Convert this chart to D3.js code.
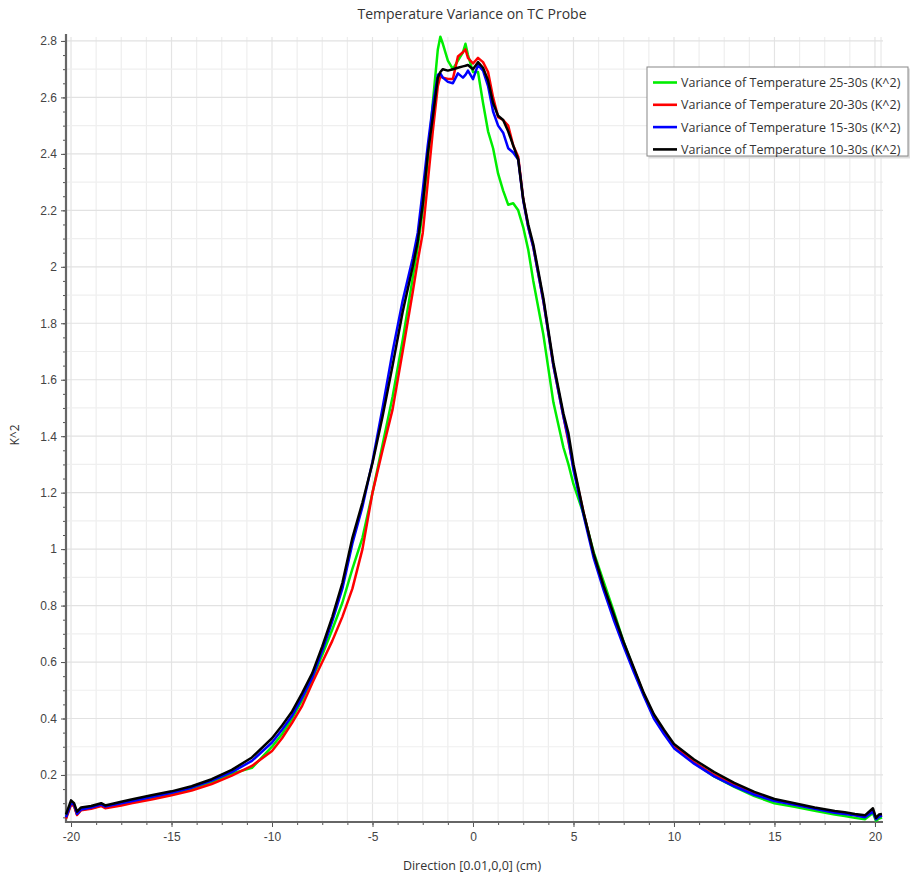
<!DOCTYPE html>
<html>
<head>
<meta charset="utf-8">
<script src="https://cdn.jsdelivr.net/npm/d3@7"></script>
<style>
  body { margin: 0; background: #fff; }
  svg { font-family: "Open Sans", "Noto Sans", sans-serif; }
  .tick text { fill: #444; font-size: 12px; }
</style>
</head>
<body>
<div id="chart"></div>
<script>
// --- Data ---
const xPos = [-20.25, -20.0, -19.85, -19.7, -19.5, -19, -18.5, -18.3, -17.5, -17, -16, -15, -14, -13, -12, -11,
  -10, -9.5, -9, -8.5, -8, -7.5, -7, -6.5, -6, -5.5, -5, -4.5, -4, -3.5, -3, -2.75, -2.5, -2.25, -2, -1.75,
  -1.625, -1.5, -1.25, -1, -0.75, -0.5, -0.375, -0.25, 0, 0.25, 0.5, 0.75, 1, 1.25, 1.5, 1.75, 2, 2.25, 2.5,
  2.75, 3, 3.5, 4, 4.5, 4.75, 5, 5.5, 6, 6.5, 7, 7.5, 8, 8.5, 9, 9.5, 10, 11, 12, 13, 14, 15, 16, 17, 18,
  18.5, 19, 19.5, 19.9, 20.05, 20.2, 20.35];

const var25_30 = [0.048, 0.098, 0.092, 0.06, 0.077, 0.083, 0.092, 0.085, 0.096, 0.104, 0.118, 0.133, 0.15, 0.176, 0.205, 0.225,
  0.3, 0.345, 0.4, 0.465, 0.54, 0.625, 0.715, 0.81, 0.93, 1.04, 1.2, 1.37, 1.54, 1.74, 1.96, 2.07, 2.2, 2.38, 2.58, 2.77,
  2.815, 2.79, 2.73, 2.7, 2.73, 2.76, 2.79, 2.75, 2.69, 2.69, 2.58, 2.48, 2.42, 2.33, 2.27, 2.22, 2.225, 2.2, 2.14,
  2.06, 1.95, 1.76, 1.52, 1.36, 1.3, 1.23, 1.125, 0.99, 0.885, 0.78, 0.67, 0.575, 0.485, 0.405, 0.35, 0.3, 0.243, 0.195, 0.158, 0.125, 0.1, 0.087, 0.073, 0.06,
  0.055, 0.048, 0.043, 0.065, 0.038, 0.045, 0.05];

const var20_30 = [0.045, 0.095, 0.09, 0.058, 0.075, 0.08, 0.09, 0.082, 0.092, 0.1, 0.113, 0.128, 0.145, 0.168, 0.198, 0.232,
  0.285, 0.33, 0.385, 0.445, 0.525, 0.6, 0.675, 0.76, 0.86, 1.0, 1.2, 1.35, 1.495, 1.7, 1.91, 2.02, 2.12, 2.3, 2.48, 2.64,
  2.675, 2.67, 2.665, 2.665, 2.745, 2.76, 2.77, 2.74, 2.72, 2.74, 2.725, 2.69, 2.6, 2.53, 2.52, 2.5, 2.43, 2.39, 2.24,
  2.14, 2.07, 1.88, 1.65, 1.47, 1.38, 1.29, 1.13, 0.98, 0.865, 0.76, 0.66, 0.575, 0.485, 0.41, 0.355, 0.305, 0.245, 0.2, 0.165, 0.135, 0.11, 0.095, 0.082, 0.068,
  0.064, 0.058, 0.052, 0.075, 0.045, 0.055, 0.058];

const var15_30 = [0.05, 0.1, 0.095, 0.062, 0.078, 0.085, 0.095, 0.088, 0.1, 0.107, 0.122, 0.137, 0.155, 0.18, 0.21, 0.25,
  0.315, 0.36, 0.41, 0.475, 0.545, 0.64, 0.745, 0.86, 1.02, 1.15, 1.31, 1.5, 1.7, 1.88, 2.03, 2.12, 2.27, 2.43, 2.57, 2.68,
  2.685, 2.67, 2.655, 2.65, 2.685, 2.67, 2.68, 2.695, 2.665, 2.715, 2.695, 2.64, 2.55, 2.5, 2.475, 2.42, 2.405, 2.38, 2.235,
  2.14, 2.07, 1.88, 1.65, 1.47, 1.39, 1.28, 1.12, 0.97, 0.855, 0.75, 0.655, 0.565, 0.48, 0.4, 0.345, 0.295, 0.24, 0.195, 0.16, 0.13, 0.108, 0.094, 0.08, 0.066,
  0.062, 0.057, 0.05, 0.07, 0.043, 0.052, 0.056];

const var10_30 = [0.06, 0.11, 0.1, 0.07, 0.085, 0.09, 0.1, 0.092, 0.105, 0.113, 0.128, 0.142, 0.16, 0.185, 0.218, 0.262,
  0.33, 0.375, 0.425, 0.49, 0.56, 0.655, 0.76, 0.88, 1.04, 1.165, 1.305, 1.47, 1.65, 1.84, 2.0, 2.09, 2.22, 2.4, 2.53, 2.67,
  2.69, 2.7, 2.695, 2.7, 2.705, 2.71, 2.712, 2.715, 2.7, 2.725, 2.705, 2.66, 2.58, 2.535, 2.52, 2.48, 2.43, 2.38, 2.24,
  2.15, 2.08, 1.89, 1.66, 1.48, 1.41, 1.3, 1.13, 0.985, 0.87, 0.77, 0.67, 0.58, 0.49, 0.415, 0.36, 0.31, 0.255, 0.21, 0.172, 0.14, 0.115, 0.1, 0.085, 0.072,
  0.068, 0.062, 0.057, 0.082, 0.048, 0.06, 0.062];

const seriesNames = ["Variance of Temperature 25-30s (K^2)", "Variance of Temperature 20-30s (K^2)",
  "Variance of Temperature 15-30s (K^2)", "Variance of Temperature 10-30s (K^2)"];
const seriesColors = ["#00ee00", "#ff0000", "#0000ff", "#000000"];
const seriesValues = [var25_30, var20_30, var15_30, var10_30];

const yTicks = [0.2, 0.4, 0.6, 0.8, 1, 1.2, 1.4, 1.6, 1.8, 2, 2.2, 2.4, 2.6, 2.8];
const xTicks = [-20, -15, -10, -5, 0, 5, 10, 15, 20];

// --- Setup ---
const W = 910, H = 875;
const plotL = 66, plotR = 883, plotT = 37, plotB = 822;

const svg = d3.select("#chart").append("svg")
    .attr("width", W)
    .attr("height", H);

const x = d3.scaleLinear().domain([-20.25, 20.4]).range([plotL, plotR]);
const y = d3.scaleLinear().domain([0.0334, 2.814]).range([plotB, plotT]);

// grid
const grid = svg.append("g");
const vGrid = d3.range(-20, 20.01, 1.25);
grid.selectAll(".vg").data(vGrid).enter().append("line")
    .attr("x1", d => x(d)).attr("x2", d => x(d))
    .attr("y1", plotT).attr("y2", plotB)
    .attr("stroke", d => d % 5 === 0 ? "#e4e4e4" : "#eeeeee")
    .attr("stroke-width", 1.2);
const hGrid = d3.range(1, 29).map(i => i / 10);
grid.selectAll(".hg").data(hGrid).enter().append("line")
    .attr("x1", plotL).attr("x2", plotR)
    .attr("y1", d => y(d)).attr("y2", d => y(d))
    .attr("stroke", (d, i) => (i % 2 === 1) ? "#e2e2e2" : "#efefef")
    .attr("stroke-width", 1.2);
grid.append("line")
    .attr("x1", plotR - 2).attr("x2", plotR - 2)
    .attr("y1", plotT).attr("y2", plotB)
    .attr("stroke", "#e4e4e4");

// axes
svg.append("g")
    .attr("transform", `translate(${plotL},0)`)
    .call(d3.axisLeft(y).tickValues(yTicks).tickFormat(d3.format("~g")).tickSize(5).tickPadding(4));
svg.append("g")
    .attr("transform", `translate(${plotL},0)`)
    .call(d3.axisLeft(y).tickValues(d3.range(1, 57).map(i => i * 0.05)).tickFormat("").tickSize(3));

svg.append("g")
    .attr("transform", `translate(0,${plotB})`)
    .call(d3.axisBottom(x).tickValues(xTicks).tickFormat(d => d < 0 ? "-" + Math.abs(d) : d).tickSize(5).tickPadding(5));
svg.append("g")
    .attr("transform", `translate(0,${plotB})`)
    .call(d3.axisBottom(x).tickValues(vGrid).tickFormat("").tickSize(3));

svg.selectAll(".domain").remove();
svg.selectAll(".tick line").attr("stroke", "#555");
svg.append("line")
    .attr("x1", plotL).attr("x2", plotL).attr("y1", plotT - 3).attr("y2", plotB + 1)
    .attr("stroke", "#666").attr("stroke-width", 2.2);
svg.append("line")
    .attr("x1", plotL - 1).attr("x2", plotR).attr("y1", plotB).attr("y2", plotB)
    .attr("stroke", "#666").attr("stroke-width", 2.2);

// lines
const line = d3.line()
    .x((d, i) => x(xPos[i]))
    .y(d => y(d));

svg.append("g")
    .selectAll("path")
    .data(seriesValues)
    .enter()
    .append("path")
        .attr("d", d => line(d))
        .attr("fill", "none")
        .attr("stroke", (d, i) => seriesColors[i])
        .attr("stroke-width", 2.5)
        .attr("stroke-linejoin", "round");

// titles
svg.append("text")
    .attr("x", 472).attr("y", 19)
    .attr("text-anchor", "middle")
    .attr("font-size", 14)
    .attr("fill", "#333")
    .text("Temperature Variance on TC Probe");

svg.append("text")
    .attr("x", 472).attr("y", 870)
    .attr("text-anchor", "middle")
    .attr("font-size", 12.5)
    .attr("fill", "#333")
    .text("Direction [0.01,0,0] (cm)");

svg.append("text")
    .attr("transform", "translate(19,435) rotate(-90)")
    .attr("text-anchor", "middle")
    .attr("font-size", 12)
    .attr("fill", "#333")
    .text("K^2");

// legend
const legend = svg.append("g").attr("transform", "translate(647,67)");
legend.append("rect")
    .attr("x", 1.5).attr("y", 1.5)
    .attr("width", 262).attr("height", 90)
    .attr("fill", "#ddd");
legend.append("rect")
    .attr("width", 261).attr("height", 89)
    .attr("fill", "#fff")
    .attr("stroke", "#888");
const item = legend.selectAll(".item")
    .data(seriesNames)
    .enter()
    .append("g")
        .attr("transform", (d, i) => `translate(0,${15.5 + i * 22.3})`);
item.append("line")
    .attr("x1", 6).attr("x2", 30)
    .attr("stroke", (d, i) => seriesColors[i])
    .attr("stroke-width", 2.6);
item.append("text")
    .attr("x", 34).attr("y", 4.5)
    .attr("font-size", 12.5)
    .attr("fill", "#333")
    .text(d => d);
</script>
</body>
</html>
